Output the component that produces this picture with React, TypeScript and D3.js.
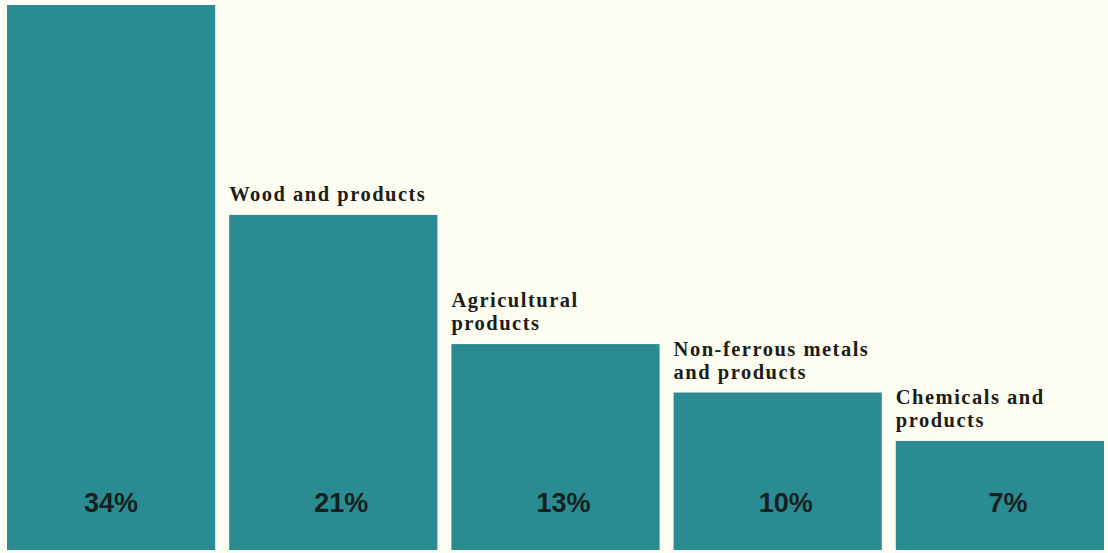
import React from "react";
import * as d3 from "d3";

const categories: string[][] = [
  [],
  ["Wood and products"],
  ["Agricultural", "products"],
  ["Non-ferrous metals", "and products"],
  ["Chemicals and", "products"],
];
const values: number[] = [34, 21, 13, 10, 7];
const valueLabels: string[] = ["34%", "21%", "13%", "10%", "7%"];

const W = 1108;
const H = 553;

export default function App() {
  const x = d3
    .scaleBand<number>()
    .domain(values.map((_, i) => i))
    .range([7, 1104])
    .paddingInner(0.063)
    .paddingOuter(0);
  const y = d3.scaleLinear().domain([0, 34]).range([554, 5]);
  const bottom = 550;
  const bw = x.bandwidth();

  return (
    <svg
      width={W}
      height={H}
      style={{ position: "absolute", left: 0, top: 0, display: "block" }}
    >
      <rect x={0} y={0} width={W} height={H} fill="#fdfcf1" />
      {values.map((v, i) => {
        const x0 = x(i)!;
        const top = y(v);
        const lines = categories[i];
        return (
          <g key={i}>
            <rect x={x0} y={top} width={bw} height={bottom - top} fill="#2a8c92" />
            {lines.map((ln, j) => (
              <text
                key={j}
                x={x0 + 0}
                y={top - 14 - (lines.length - 1 - j) * 23}
                fontFamily="'Liberation Serif', 'DejaVu Serif', serif"
                fontWeight="bold"
                fontSize={20.5}
                letterSpacing={1.5}
                fill="#1c1c18"
              >
                {ln}
              </text>
            ))}
            <text
              x={x0 + bw / 2 + (i === 0 ? 0 : 8)}
              y={512}
              textAnchor="middle"
              fontFamily="'Liberation Sans', Arial, sans-serif"
              fontWeight="bold"
              fontSize={27}
              fill="#16201f"
            >
              {valueLabels[i]}
            </text>
          </g>
        );
      })}
    </svg>
  );
}
